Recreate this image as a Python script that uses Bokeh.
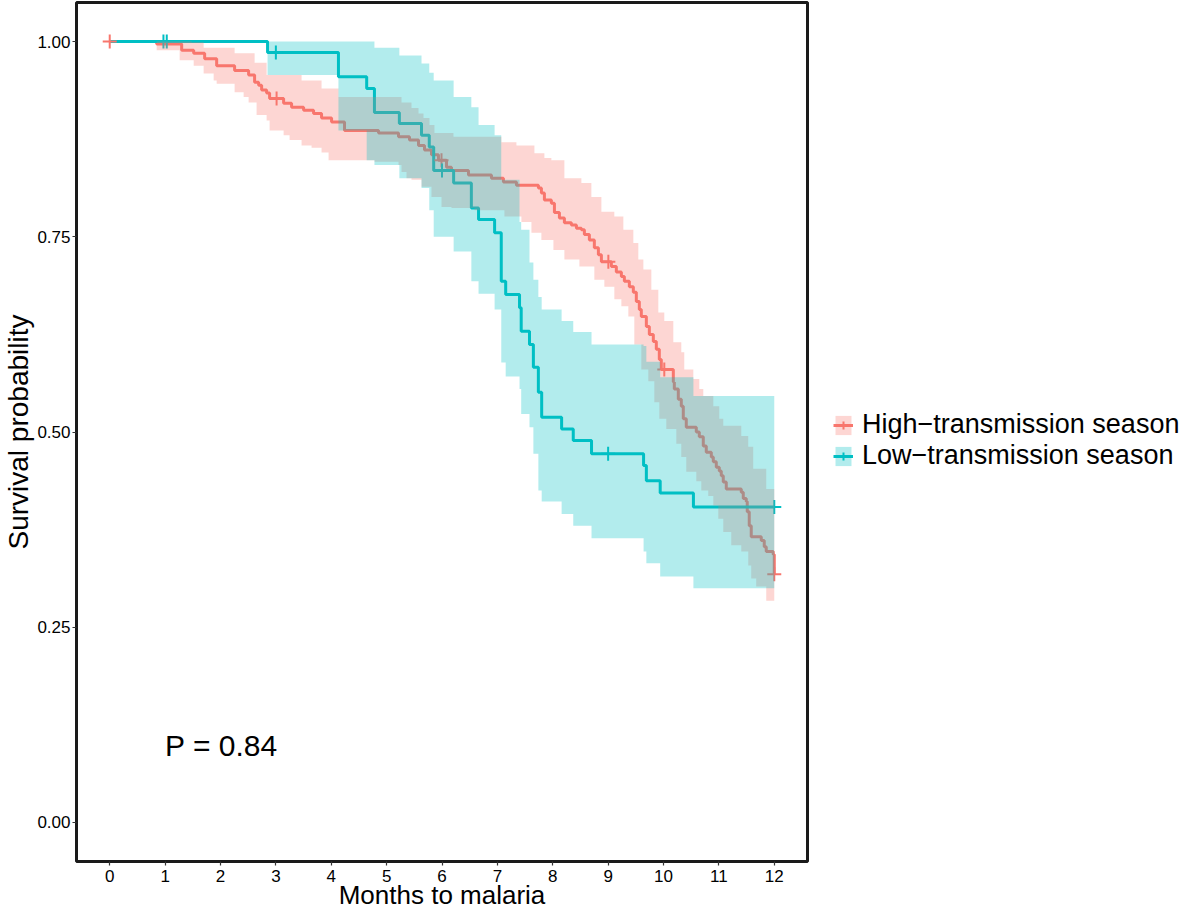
import numpy as np
from bokeh.plotting import figure
from bokeh.models import Range1d, FixedTicker, Legend, LegendItem, Label, NumeralTickFormatter
from bokeh.embed import file_html
from bokeh.resources import INLINE

FONT = "Liberation Sans"
RED = "#F8766D"
TEAL = "#00BFC4"

# ---- data (months, survival probability) ----
x_ticks = list(range(13))
y_ticks = [0.0, 0.25, 0.5, 0.75, 1.0]
series_labels = ["High\u2212transmission season", "Low\u2212transmission season"]
x_title = "Months to malaria"
y_title = "Survival probability"
p_value_text = "P = 0.84"

# High-transmission season: KM step curve
high_t = [0, 0.848, 1.299, 1.516, 1.714, 1.931, 2.255, 2.508, 2.616, 2.689,
          2.743, 2.833, 2.887, 3.140, 3.284, 3.501, 3.681, 3.825, 4.006, 4.240,
          4.854, 5.215, 5.413, 5.576, 5.684, 5.810, 5.936, 6.081, 6.171, 6.478,
          6.893, 7.109, 7.344, 7.741, 7.795, 7.849, 7.975, 8.030, 8.120, 8.210,
          8.336, 8.427, 8.517, 8.571, 8.661, 8.751, 8.824, 8.878, 9.058, 9.148,
          9.239, 9.293, 9.383, 9.455, 9.509, 9.563, 9.599, 9.690, 9.744, 9.816,
          9.870, 9.924, 9.960, 10.177, 10.195, 10.267, 10.321, 10.357, 10.411, 10.592,
          10.646, 10.718, 10.772, 10.863, 10.899, 10.953, 11.007, 11.043, 11.079, 11.133,
          11.404, 11.440, 11.494, 11.512, 11.548, 11.584, 11.765, 11.819, 11.855, 11.981,
          12.0]
high_s = [1.0, 0.997, 0.989, 0.985, 0.978, 0.969, 0.963, 0.957, 0.948, 0.944,
          0.938, 0.934, 0.927, 0.921, 0.916, 0.912, 0.908, 0.902, 0.897, 0.886,
          0.883, 0.878, 0.874, 0.867, 0.861, 0.855, 0.848, 0.839, 0.835, 0.829,
          0.825, 0.820, 0.816, 0.8125, 0.806, 0.797, 0.793, 0.781, 0.774, 0.768,
          0.765, 0.761, 0.759, 0.753, 0.746, 0.736, 0.727, 0.718, 0.712, 0.705,
          0.699, 0.693, 0.686, 0.679, 0.667, 0.657, 0.648, 0.635, 0.625, 0.616,
          0.606, 0.593, 0.580, 0.564, 0.555, 0.542, 0.533, 0.517, 0.506, 0.500,
          0.494, 0.482, 0.474, 0.468, 0.462, 0.455, 0.450, 0.444, 0.436, 0.427,
          0.423, 0.415, 0.411, 0.398, 0.380, 0.366, 0.361, 0.353, 0.347, 0.343,
          0.318]
high_censor_t = [0.0, 3.013, 5.991, 9.004, 10.014, 12.0]

# High-transmission season: confidence band
high_up_t = [0, 1.480, 1.696, 2.255, 2.616, 2.833, 3.464, 3.825, 4.132, 5.269,
             5.449, 5.576, 5.666, 5.774, 5.864, 6.207, 7.073, 7.344, 7.669, 7.849,
             7.975, 8.210, 8.517, 8.697, 8.878, 9.112, 9.275, 9.455, 9.545, 9.636,
             9.780, 9.906, 10.014, 10.177, 10.321, 10.375, 10.538, 10.646, 10.718, 10.899,
             11.007, 11.079, 11.404, 11.530, 11.620, 11.855, 12.0]
high_up = [1.0, 0.999, 0.992, 0.985, 0.973, 0.957, 0.950, 0.940, 0.929, 0.922,
           0.915, 0.908, 0.902, 0.893, 0.883, 0.878, 0.871, 0.867, 0.857, 0.851,
           0.848, 0.825, 0.819, 0.801, 0.782, 0.776, 0.759, 0.742, 0.721, 0.708,
           0.682, 0.653, 0.642, 0.615, 0.602, 0.580, 0.568, 0.555, 0.546, 0.533,
           0.517, 0.508, 0.495, 0.481, 0.453, 0.427, 0.427]
high_lo_t = [0, 0.848, 1.263, 1.516, 1.696, 1.877, 1.931, 2.255, 2.418, 2.508,
             2.652, 2.833, 2.887, 3.140, 3.248, 3.464, 3.645, 3.825, 3.952, 4.782,
             5.215, 5.269, 5.359, 5.449, 5.630, 5.810, 5.991, 6.171, 6.586, 7.127,
             7.434, 7.615, 7.795, 8.012, 8.210, 8.481, 8.751, 8.932, 9.112, 9.239,
             9.365, 9.473, 9.599, 9.726, 9.834, 9.924, 10.050, 10.231, 10.321, 10.411,
             10.592, 10.682, 10.808, 10.899, 10.989, 11.079, 11.223, 11.404, 11.530, 11.584,
             11.674, 11.855, 12.0]
high_lo = [1.0, 0.989, 0.976, 0.969, 0.959, 0.950, 0.946, 0.935, 0.929, 0.922,
           0.906, 0.899, 0.886, 0.880, 0.874, 0.867, 0.864, 0.858, 0.848, 0.846,
           0.842, 0.833, 0.825, 0.823, 0.814, 0.801, 0.788, 0.787, 0.784, 0.776,
           0.769, 0.755, 0.746, 0.733, 0.721, 0.712, 0.695, 0.686, 0.670, 0.661,
           0.648, 0.612, 0.580, 0.565, 0.538, 0.517, 0.504, 0.485, 0.468, 0.449,
           0.437, 0.425, 0.418, 0.406, 0.389, 0.372, 0.355, 0.347, 0.329, 0.3125,
           0.302, 0.284, 0.284]

# Low-transmission season: KM step curve with band
low_t = [0, 2.85, 4.13, 4.64, 4.78, 5.23, 5.63, 5.77, 5.85, 6.21,
         6.53, 6.66, 6.95, 7.07, 7.15, 7.40, 7.43, 7.58, 7.65, 7.74,
         7.80, 8.16, 8.37, 8.70, 9.64, 9.69, 9.94, 10.54, 12.0]
low_s = [1.0, 0.986, 0.955, 0.940, 0.909, 0.895, 0.880, 0.865, 0.835, 0.819,
         0.787, 0.772, 0.755, 0.693, 0.676, 0.659, 0.629, 0.612, 0.583, 0.551,
         0.519, 0.504, 0.489, 0.472, 0.457, 0.4375, 0.422, 0.404, 0.404]
low_up = [1.0, 1.0, 1.0, 1.0, 0.992, 0.982, 0.972, 0.960, 0.950, 0.929,
          0.916, 0.893, 0.880, 0.823, 0.823, 0.769, 0.759, 0.717, 0.695, 0.673,
          0.657, 0.642, 0.628, 0.612, 0.610, 0.590, 0.570, 0.546, 0.546]
low_lo = [1.0, 0.957, 0.886, 0.848, 0.842, 0.825, 0.8125, 0.784, 0.750, 0.731,
          0.693, 0.677, 0.657, 0.589, 0.571, 0.555, 0.523, 0.506, 0.472, 0.425,
          0.411, 0.395, 0.380, 0.364, 0.347, 0.332, 0.315, 0.300, 0.300]
low_censor_t = [0.97, 1.03, 3.0, 6.0, 9.0, 12.0]


def step_value(ts, ss, t):
    i = np.searchsorted(np.asarray(ts), t, side="right") - 1
    return ss[max(i, 0)]


high_censor_s = [step_value(high_t, high_s, t) for t in high_censor_t]
low_censor_s = [step_value(low_t, low_s, t) for t in low_censor_t]

# merged time grid for the high-transmission band (union of its upper/lower steps)
high_band_t = sorted(set(high_up_t) | set(high_lo_t))
high_band_up = [step_value(high_up_t, high_up, t) for t in high_band_t]
high_band_lo = [step_value(high_lo_t, high_lo, t) for t in high_band_t]

p = figure(frame_width=731, frame_height=859, output_backend="svg",
           toolbar_location=None,
           x_range=Range1d(-0.6, 12.6), y_range=Range1d(-0.05, 1.05),
           min_border_left=76, min_border_right=374, min_border_top=2,
           min_border_bottom=0)
p.grid.visible = False
p.background_fill_color = "white"
p.border_fill_color = "white"
p.outline_line_color = "#1a1a1a"
p.outline_line_width = 3
p.outline_line_alpha = 1.0

# lines first (bands drawn over them, as in the reference)
l_hi = p.step(high_t, high_s, mode="after", line_color=RED, line_width=3)
l_lo = p.step(low_t, low_s, mode="after", line_color=TEAL, line_width=3)
c_hi = p.scatter(high_censor_t, high_censor_s, marker="cross", size=14,
                 line_color=RED, line_width=2)
c_lo = p.scatter(low_censor_t, low_censor_s, marker="cross", size=14,
                 line_color=TEAL, line_width=2)

b_hi = p.varea_step(x=high_band_t, y1=high_band_lo, y2=high_band_up,
                    step_mode="after", fill_color=RED, fill_alpha=0.3)
b_lo = p.varea_step(x=low_t, y1=low_lo, y2=low_up, step_mode="after",
                    fill_color=TEAL, fill_alpha=0.3)

# axes
for ax in p.axis:
    ax.axis_line_color = None
    ax.major_tick_in = 0
    ax.major_tick_out = 4
    ax.major_tick_line_color = "#333333"
    ax.major_tick_line_width = 1.2
    ax.minor_tick_line_color = None
    ax.major_label_text_font = FONT
    ax.major_label_text_font_size = "17px"
    ax.major_label_text_color = "black"
    ax.axis_label_text_font = FONT
    ax.axis_label_text_font_style = "normal"
    ax.axis_label_text_color = "black"

p.yaxis.axis_label_text_font_size = "28px"
p.xaxis.axis_label_text_font_size = "26px"
p.yaxis.major_label_standoff = 2
p.yaxis.axis_label_standoff = 0
p.xaxis.major_label_standoff = 4
p.xaxis.axis_label_standoff = -5

p.xaxis.ticker = FixedTicker(ticks=x_ticks)
p.yaxis.ticker = FixedTicker(ticks=y_ticks)
p.yaxis.formatter = NumeralTickFormatter(format="0.00")
p.xaxis.axis_label = x_title
p.yaxis.axis_label = y_title

p.add_layout(Label(x=1.0, y=0.098, text=p_value_text, text_font=FONT,
                   text_font_size="30px", text_baseline="middle",
                   text_color="black"))

legend = Legend(items=[
    LegendItem(label=series_labels[0], renderers=[b_hi, l_hi, c_hi]),
    LegendItem(label=series_labels[1], renderers=[b_lo, l_lo, c_lo]),
], location=(26, 390))
legend.label_text_font = FONT
legend.label_text_font_size = "27px"
legend.label_text_line_height = 1.0
legend.label_text_color = "black"
legend.glyph_width = 20
legend.glyph_height = 24
legend.label_height = 24
legend.label_standoff = 9
legend.spacing = -5
legend.padding = 0
legend.margin = 0
legend.border_line_color = None
legend.background_fill_alpha = 0
p.add_layout(legend, "right")

open("out.html", "w").write(file_html(p, INLINE))
